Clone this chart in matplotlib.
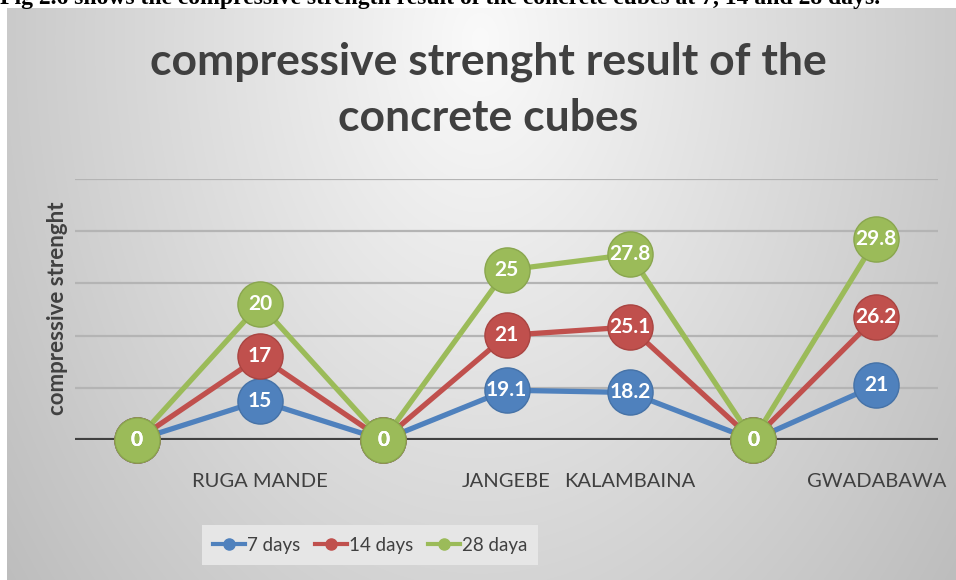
import matplotlib
matplotlib.use("Agg")
import matplotlib.pyplot as plt
import numpy as np
from matplotlib.lines import Line2D

categories = ["", "RUGA MANDE", "", "JANGEBE", "KALAMBAINA", "", "GWADABAWA"]
series_names = ["7 days", "14 days", "28 daya"]
days_7 = [0, 15, 0, 19.1, 18.2, 0, 21]
days_14 = [0, 17, 0, 21, 25.1, 0, 26.2]
days_28 = [0, 20, 0, 25, 27.8, 0, 29.8]
grid_ticks = [0, 20, 40, 60, 80, 100]

colors = ["#4F81BD", "#C0504D", "#9BBB59"]
edge_colors = ["#4572a7", "#a94441", "#89a64e"]
font = "Lato"

W, H = 956, 580
figure = plt.figure(figsize=(W / 100, H / 100), dpi=100)

# gray chart-area background (lighter towards the top centre)
bg = figure.add_axes([0, 0, 1, 1], zorder=-5)
yy, xx = np.mgrid[0:H, 0:W]
d = np.sqrt(((xx - 480) / 480.0) ** 2 + ((yy - 40) / 700.0) ** 2)
shade = np.clip(0.98 - 0.19 * d, 0, 1)
img = np.dstack([shade, shade, shade])
img[:8, :, :] = 1.0
img[:, :7, :] = 1.0
bg.imshow(img, extent=[0, W, H, 0], aspect="auto", interpolation="bilinear")
bg.set_xlim(0, W); bg.set_ylim(H, 0)
bg.axis("off")

# caption line of the page above the chart (cropped in the original)
figure.text(0.0, 1 - 4 / H,
            "Fig 2.6 shows the compressive strength result of the concrete cubes at 7, 14 and 28 days.",
            family="Liberation Serif", fontsize=17, fontweight="bold", color="black",
            ha="left", va="baseline")

ax = figure.add_axes([75 / W, 1 - 440 / H, (938 - 75) / W, (440 - 179) / H])
ax.set_facecolor("none")
x = np.arange(len(categories))
ax.set_xlim(-0.5, len(categories) - 0.5)
ax.set_ylim(0, 100)

for g in grid_ticks[1:]:
    ax.axhline(g, color="#b4b4b4", linewidth=1.6, zorder=1)
ax.axhline(0, color="#404040", linewidth=3, zorder=2)

stacked = np.cumsum(np.array([days_7, days_14, days_28]), axis=0)
values = [days_7, days_14, days_28]
for i, name in enumerate(series_names):
    ax.plot(x, stacked[i], color=colors[i], linewidth=3.8, marker="o",
            markersize=32.5, markerfacecolor=colors[i], markeredgecolor=edge_colors[i],
            markeredgewidth=1, clip_on=False, zorder=3 + i, label=name)
    for xi, yi, v in zip(x, stacked[i], values[i]):
        ax.text(xi, yi, f"{v:g}", color="white", fontsize=15, fontweight="bold",
                family=font, ha="center", va="center", zorder=10 + i)

ax.set_xticks(x)
ax.set_xticklabels(categories, family=font, fontsize=14.5, color="#404040")
ax.tick_params(axis="x", length=0, pad=24)
ax.set_yticks([])
for s in ax.spines.values():
    s.set_visible(False)

ax.set_ylabel("compressive strenght", family=font, fontsize=16, fontweight="bold",
              color="#404040")
ax.yaxis.set_label_coords(-7 / (938 - 75), (440 - 308) / (440 - 179))

figure.text(488 / W, 1 - 62 / H, "compressive strenght result of the",
            family=font, fontsize=32, fontweight="bold", color="#404040",
            ha="center", va="center")
figure.text(488 / W, 1 - 118 / H, "concrete cubes",
            family=font, fontsize=32, fontweight="bold", color="#404040",
            ha="center", va="center")

handles = [Line2D([0], [0], color=c, linewidth=3, marker="o", markersize=8)
           for c in colors]
leg = figure.legend(handles, series_names, loc="center", bbox_to_anchor=(370 / W, 1 - 545 / H),
                    ncol=3, frameon=True, fancybox=False, handlelength=1.7,
                    handletextpad=0.1, columnspacing=0.8, borderpad=0.6,
                    prop={"family": font, "size": 13.5})
leg.get_frame().set_facecolor("#e6e6e6")
leg.get_frame().set_edgecolor("none")
leg.get_frame().set_alpha(1)
for t in leg.get_texts():
    t.set_color("#404040")

figure.savefig("out.png", dpi=100)
